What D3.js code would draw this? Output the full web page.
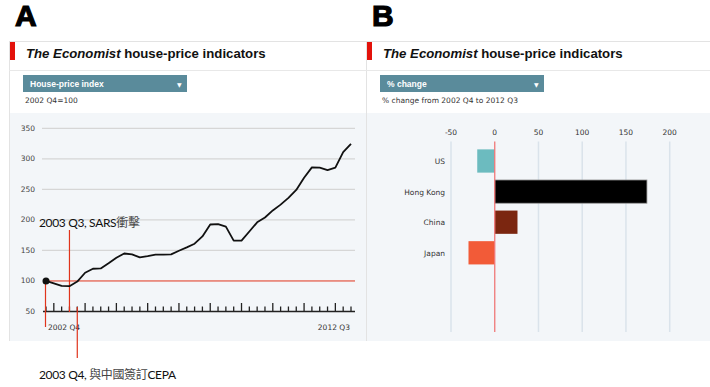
<!DOCTYPE html>
<meta charset="utf-8">
<script src="https://d3js.org/d3.v7.min.js"></script>
<style>
  body { margin: 0; background: #fff; }
  svg { display: block; }
</style>
<div id="chart"></div>
<script>
// house-price index, 2002 Q4 = 100, one value per quarter
const quarters = [
  "2002 Q4",
  "2003 Q1","2003 Q2","2003 Q3","2003 Q4",
  "2004 Q1","2004 Q2","2004 Q3","2004 Q4",
  "2005 Q1","2005 Q2","2005 Q3","2005 Q4",
  "2006 Q1","2006 Q2","2006 Q3","2006 Q4",
  "2007 Q1","2007 Q2","2007 Q3","2007 Q4",
  "2008 Q1","2008 Q2","2008 Q3","2008 Q4",
  "2009 Q1","2009 Q2","2009 Q3","2009 Q4",
  "2010 Q1","2010 Q2","2010 Q3","2010 Q4",
  "2011 Q1","2011 Q2","2011 Q3","2011 Q4",
  "2012 Q1","2012 Q2","2012 Q3"
];
const hpi = [100,96,92,91.5,99,113.5,120,120.5,129,138,145,143.5,138.5,140.5,143,
  143,143.5,149.5,155,161,173,192.5,193,189,166,166,181,196,204,215.5,
  225,236,249,269,286,285.5,281.5,285.5,311,324.5];
const yTicks = [50,100,150,200,250,300,350];

// % change 2002 Q4 -> 2012 Q3
const countries = ["US","Hong Kong","China","Japan"];
const pctChange = [-20,174,26,-30];
const barColors = ["#6cbbbf","#000000","#7b2610","#f25b38"];
const xTicksB = [-50,0,50,100,150,200];

const W = 710, H = 387;
const svg = d3.select("#chart").append("svg")
  .attr("width", W).attr("height", H)
  .style("font-family", "'DejaVu Sans', Verdana, sans-serif");

// ---------- panel frames ----------
function panel(x0, x1, letter, menuText, subText) {
  const g = svg.append("g");
  g.append("text").attr("x", x0 + 6).attr("y", 26)
    .style("font-family", "'Liberation Sans', Arial, sans-serif")
    .style("font-weight", "900").style("font-size", "30px")
    .attr("stroke", "#000").attr("stroke-width", 1.2)
    .text(letter);
  g.append("line").attr("x1", x0).attr("x2", x1).attr("y1", 41.5).attr("y2", 41.5)
    .attr("stroke", "#e3e3e3");
  g.append("line").attr("x1", x0 + 0.5).attr("x2", x0 + 0.5).attr("y1", 41).attr("y2", 341)
    .attr("stroke", "#e3e3e3");
  g.append("rect").attr("x", x0 + 1).attr("y", 42).attr("width", 5).attr("height", 18)
    .attr("fill", "#e3120b");
  const t = g.append("text").attr("x", x0 + 17).attr("y", 58)
    .style("font-family", "'Liberation Sans', Arial, sans-serif")
    .style("font-weight", "bold").style("font-size", "13.2px").attr("fill", "#111");
  t.append("tspan").style("font-style", "italic").text("The Economist");
  t.append("tspan").text(" house-price indicators");
  g.append("line").attr("x1", x0).attr("x2", x1).attr("y1", 70.5).attr("y2", 70.5)
    .attr("stroke", "#e8e8e8");
  g.append("rect").attr("x", x0 + 14).attr("y", 75).attr("width", 164).attr("height", 17)
    .attr("fill", "#5a8b9b");
  g.append("text").attr("x", x0 + 21).attr("y", 87)
    .attr("fill", "#fff").style("font-weight", "bold").style("font-size", "8.5px")
    .style("font-family", "'Liberation Sans', Arial, sans-serif")
    .text(menuText);
  g.append("text").attr("x", x0 + 168).attr("y", 87)
    .attr("fill", "#fff").style("font-size", "6px").text("▼");
  g.append("text").attr("x", x0 + 16).attr("y", 103)
    .attr("fill", "#333").style("font-size", "7.5px").text(subText);
  g.append("rect").attr("x", x0 + 1).attr("y", 113).attr("width", x1 - x0 - 1).attr("height", 228)
    .attr("fill", "#f3f6f9");
}
panel(9, 366, "A", "House-price index", "2002 Q4=100");
panel(366, 710, "B", "% change", "% change from 2002 Q4 to 2012 Q3");

// ---------- chart A: line ----------
const x = d3.scalePoint().domain(quarters).range([46, 351]);
const y = d3.scaleLinear().domain([50, 350]).range([311.5, 128.3]);

const gA = svg.append("g");
gA.selectAll(".grid").data(yTicks.filter(d => d > 100)).join("line")
  .attr("x1", 42).attr("x2", 355)
  .attr("y1", d => y(d)).attr("y2", d => y(d))
  .attr("stroke", "#d6d6d6").attr("stroke-width", 1.2);
gA.selectAll(".ylab").data(yTicks).join("text")
  .attr("x", 35).attr("y", d => y(d) + 2.5)
  .attr("text-anchor", "end").attr("fill", "#444").style("font-size", "7.5px")
  .text(d => d);

// baseline at 100
gA.append("line").attr("x1", 46).attr("x2", 355)
  .attr("y1", y(100)).attr("y2", y(100))
  .attr("stroke", "#e0341c").attr("stroke-width", 1);

// quarter ticks on the axis
gA.append("line").attr("x1", 43).attr("x2", 355)
  .attr("y1", y(50)).attr("y2", y(50))
  .attr("stroke", "#222").attr("stroke-width", 1.3);
gA.selectAll(".qt").data(quarters).join("line")
  .attr("x1", d => x(d)).attr("x2", d => x(d))
  .attr("y1", y(50))
  .attr("y2", d => y(50) - (d.endsWith("Q1") ? 8.5 : 5))
  .attr("stroke", "#222").attr("stroke-width", 1.3);

gA.append("text").attr("x", 48).attr("y", 330)
  .attr("fill", "#333").style("font-size", "7.5px").text(quarters[0]);
gA.append("text").attr("x", 350).attr("y", 330).attr("text-anchor", "end")
  .attr("fill", "#333").style("font-size", "7.5px").text(quarters[quarters.length - 1]);

// annotation markers
const annoFont = "Lato, 'Noto Sans CJK TC', sans-serif";
gA.append("line").attr("x1", x(quarters[0]) - 0.5).attr("x2", x(quarters[0]) - 0.5)
  .attr("y1", y(100)).attr("y2", 327)
  .attr("stroke", "#e0341c").attr("stroke-width", 1.2);
gA.append("line").attr("x1", x("2003 Q3")).attr("x2", x("2003 Q3"))
  .attr("y1", 230).attr("y2", 312)
  .attr("stroke", "#e0341c").attr("stroke-width", 1.2);
gA.append("line").attr("x1", x("2003 Q4")).attr("x2", x("2003 Q4"))
  .attr("y1", 307).attr("y2", 358)
  .attr("stroke", "#e0341c").attr("stroke-width", 1.2);

const line = d3.line().x((d, i) => x(quarters[i])).y(d => y(d));
gA.append("path").datum(hpi)
  .attr("d", line)
  .attr("fill", "none").attr("stroke", "#111").attr("stroke-width", 1.8)
  .attr("stroke-linejoin", "round");
gA.append("circle").attr("cx", x(quarters[0])).attr("cy", y(hpi[0])).attr("r", 3.5)
  .attr("fill", "#111");

function anno(yPos, latin, cjk, tail) {
  const t = gA.append("text").attr("x", 39).attr("y", yPos)
    .style("font-family", annoFont).style("font-size", "12px")
    .style("letter-spacing", "-0.35px").attr("fill", "#111");
  t.append("tspan").text(latin);
  t.append("tspan").attr("fill", "#444").text(cjk);
  if (tail) t.append("tspan").text(tail);
}
anno(227, "2003 Q3, SARS", "衝擊");
anno(379, "2003 Q4, ", "與中國簽訂", "CEPA");

// ---------- chart B: bars ----------
const xb = d3.scaleLinear().domain([-50, 200]).range([451, 669.7]);
const yb = d3.scaleBand().domain(countries).range([145.7, 268.1])
  .paddingInner(0.24).paddingOuter(0.12);

const gB = svg.append("g");
gB.selectAll(".vg").data(xTicksB.filter(d => d !== 0)).join("line")
  .attr("x1", d => xb(d)).attr("x2", d => xb(d))
  .attr("y1", 141.5).attr("y2", 332)
  .attr("stroke", "#dae3eb").attr("stroke-width", 1.5);
gB.selectAll(".xl").data(xTicksB).join("text")
  .attr("x", d => xb(d)).attr("y", 135)
  .attr("text-anchor", "middle").attr("fill", "#333").style("font-size", "7.5px")
  .text(d => d);

gB.selectAll(".bar").data(countries).join("rect")
  .attr("x", (d, i) => xb(Math.min(0, pctChange[i])))
  .attr("width", (d, i) => Math.abs(xb(pctChange[i]) - xb(0)))
  .attr("y", d => yb(d))
  .attr("height", yb.bandwidth())
  .attr("fill", (d, i) => barColors[i])
  .attr("stroke", (d, i) => i === 1 ? "#999" : "none")
  .attr("stroke-width", 0.8);

gB.append("line").attr("x1", xb(0)).attr("x2", xb(0))
  .attr("y1", 141.5).attr("y2", 332)
  .attr("stroke", "#f07878").attr("stroke-width", 1.3);

gB.selectAll(".cl").data(countries).join("text")
  .attr("x", 445).attr("y", d => yb(d) + yb.bandwidth() / 2 + 3)
  .attr("text-anchor", "end").attr("fill", "#333").style("font-size", "7.5px")
  .text(d => d);
</script>
